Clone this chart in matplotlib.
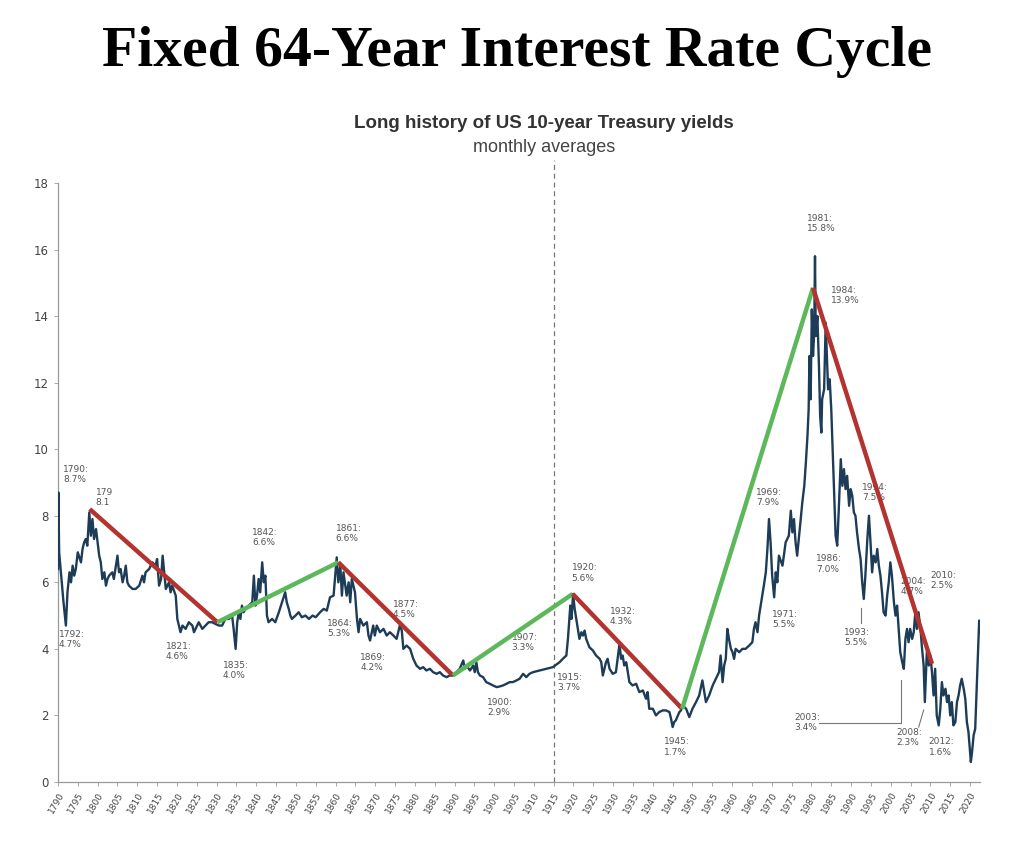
import matplotlib
matplotlib.use("Agg")
import matplotlib.pyplot as plt

# monthly-average 10y yield
years = [
    1790.0, 1790.1, 1790.3, 1790.6, 1791.0, 1791.4, 1792.0, 1792.4, 1792.9, 1793.3, 1793.7, 1794.1,
    1794.5, 1795.0, 1795.8, 1796.2, 1796.6, 1797.0, 1797.4, 1797.9, 1798.3, 1798.7, 1799.1, 1799.6,
    1800.0, 1800.4, 1800.8, 1801.2, 1801.7, 1802.1, 1802.5, 1802.9, 1803.7, 1804.1, 1804.6, 1805.0,
    1805.4, 1805.8, 1806.3, 1806.7, 1807.1, 1807.5, 1807.9, 1808.8, 1809.6, 1810.5, 1811.3, 1811.7,
    1812.1, 1813.0, 1813.8, 1814.6, 1815.0, 1815.5, 1816.0, 1816.4, 1817.2, 1818.0, 1818.4, 1818.8,
    1819.7, 1820.1, 1820.5, 1820.9, 1821.4, 1822.2, 1822.6, 1823.0, 1823.9, 1824.3, 1824.7, 1825.5,
    1826.4, 1827.2, 1828.0, 1828.9, 1829.7, 1830.6, 1831.4, 1832.2, 1833.1, 1833.9, 1834.3, 1834.8,
    1835.2, 1835.6, 1836.0, 1836.4, 1836.8, 1837.3, 1838.1, 1839.0, 1839.4, 1839.8, 1840.2, 1840.6,
    1841.0, 1841.5, 1841.9, 1842.3, 1842.7, 1843.1, 1844.0, 1844.8, 1845.7, 1846.5, 1847.3, 1847.7,
    1848.2, 1848.6, 1849.0, 1849.9, 1850.7, 1851.5, 1852.4, 1853.3, 1854.2, 1855.0, 1856.1, 1857.0,
    1857.8, 1858.6, 1859.5, 1860.3, 1860.7, 1861.2, 1861.6, 1862.0, 1862.8, 1863.3, 1863.7, 1864.1,
    1864.9, 1865.4, 1865.8, 1866.2, 1867.0, 1867.9, 1868.3, 1868.7, 1869.5, 1869.9, 1870.4, 1871.2,
    1872.1, 1872.9, 1873.7, 1874.6, 1875.4, 1876.2, 1876.7, 1877.1, 1877.9, 1878.8, 1879.6, 1880.4,
    1881.3, 1882.1, 1882.9, 1883.8, 1884.6, 1885.5, 1886.3, 1887.1, 1888.0, 1888.8, 1889.7, 1890.5,
    1891.3, 1892.2, 1892.6, 1893.0, 1893.9, 1894.7, 1895.1, 1895.5, 1895.9, 1896.4, 1897.2, 1898.0,
    1898.9, 1899.7, 1900.6, 1901.4, 1902.2, 1903.1, 1903.9, 1904.7, 1905.6, 1906.4, 1907.3, 1908.1,
    1908.9, 1909.8, 1911.5, 1913.1, 1914.8, 1916.5, 1917.3, 1918.2, 1918.6, 1919.2, 1919.5, 1919.9,
    1920.3, 1920.7, 1921.1, 1921.5, 1922.0, 1922.4, 1922.8, 1923.2, 1924.0, 1924.9, 1925.7, 1926.6,
    1927.0, 1927.4, 1928.2, 1928.6, 1929.1, 1929.9, 1930.7, 1931.6, 1932.0, 1932.4, 1932.8, 1933.3,
    1934.1, 1934.9, 1935.8, 1936.6, 1937.5, 1938.3, 1938.7, 1939.1, 1940.0, 1940.8, 1941.6, 1942.5,
    1943.3, 1944.2, 1944.6, 1945.0, 1945.4, 1945.8, 1946.7, 1947.1, 1947.5, 1948.4, 1949.2, 1950.0,
    1950.9, 1951.7, 1952.5, 1953.4, 1954.2, 1955.1, 1955.9, 1956.7, 1957.1, 1957.6, 1958.0, 1958.4,
    1958.8, 1959.2, 1959.7, 1960.1, 1960.5, 1960.9, 1961.8, 1962.6, 1963.4, 1964.3, 1965.1, 1965.5,
    1965.9, 1966.4, 1966.8, 1967.2, 1967.6, 1968.0, 1968.5, 1968.9, 1969.3, 1969.7, 1970.1, 1970.6,
    1971.0, 1971.4, 1971.8, 1972.7, 1973.5, 1974.3, 1974.8, 1975.2, 1975.6, 1976.0, 1976.4, 1976.9,
    1977.3, 1977.7, 1978.2, 1978.6, 1979.0, 1979.3, 1979.5, 1979.8, 1980.1, 1980.4, 1980.7, 1980.9,
    1981.1, 1981.5, 1981.9, 1982.2, 1982.5, 1982.7, 1983.2, 1983.6, 1983.9, 1984.2, 1984.6, 1985.0,
    1985.4, 1985.8, 1986.1, 1986.5, 1986.9, 1987.4, 1987.8, 1988.2, 1988.6, 1989.0, 1989.5, 1989.9,
    1990.3, 1990.7, 1991.1, 1991.5, 1992.0, 1992.4, 1992.8, 1993.2, 1993.6, 1994.1, 1994.5, 1994.9,
    1995.3, 1995.7, 1996.2, 1996.6, 1997.0, 1997.4, 1997.8, 1998.2, 1998.7, 1999.1, 1999.5, 1999.9,
    2000.3, 2000.8, 2001.2, 2001.6, 2002.0, 2002.4, 2002.9, 2003.3, 2003.7, 2004.1, 2004.5, 2004.9,
    2005.4, 2005.8, 2006.2, 2006.6, 2007.0, 2007.5, 2007.9, 2008.3, 2008.6, 2008.9, 2009.1, 2009.6,
    2010.0, 2010.4, 2010.8, 2011.2, 2011.6, 2012.1, 2012.5, 2012.9, 2013.3, 2013.8, 2014.2, 2014.6,
    2015.0, 2015.4, 2015.8, 2016.3, 2016.7, 2017.1, 2017.5, 2017.9, 2018.4, 2018.8, 2019.2, 2019.6,
    2020.2, 2020.5, 2020.9, 2021.3, 2021.7, 2022.0, 2022.3, 2022.5,
]
yields = [
    6.4, 8.7, 6.9, 6.5, 6.0, 5.4, 4.7, 5.7, 6.3, 6.0, 6.5, 6.2,
    6.4, 6.9, 6.6, 7.0, 7.2, 7.3, 7.1, 8.1, 7.4, 7.9, 7.3, 7.6,
    7.2, 6.8, 6.6, 6.1, 6.3, 5.9, 6.1, 6.2, 6.3, 6.1, 6.5, 6.8,
    6.3, 6.4, 6.0, 6.2, 6.5, 6.0, 5.9, 5.8, 5.8, 5.9, 6.2, 6.0,
    6.3, 6.4, 6.6, 6.5, 6.7, 5.9, 6.1, 6.8, 5.8, 6.0, 5.7, 5.9,
    5.6, 4.9, 4.7, 4.5, 4.7, 4.6, 4.7, 4.8, 4.7, 4.5, 4.6, 4.8,
    4.6, 4.7, 4.8, 4.8, 4.75, 4.7, 4.7, 4.9, 4.9, 5.0, 4.6, 4.0,
    4.8, 5.1, 4.9, 5.3, 5.1, 5.2, 5.3, 5.4, 6.2, 5.3, 5.6, 6.1,
    5.7, 6.6, 6.0, 6.2, 5.0, 4.8, 4.9, 4.8, 5.1, 5.4, 5.7, 5.4,
    5.2, 5.0, 4.9, 5.0, 5.1, 4.95, 5.0, 4.9, 5.0, 4.95, 5.1, 5.2,
    5.15, 5.55, 5.6, 6.75, 6.0, 6.5, 5.6, 6.3, 5.6, 6.0, 5.4, 6.1,
    5.7, 4.9, 4.5, 4.9, 4.7, 4.8, 4.4, 4.25, 4.7, 4.4, 4.7, 4.5,
    4.6, 4.4, 4.5, 4.4, 4.3, 4.7, 4.55, 4.0, 4.1, 4.0, 3.7, 3.5,
    3.4, 3.45, 3.35, 3.4, 3.3, 3.25, 3.3, 3.2, 3.15, 3.2, 3.2, 3.3,
    3.4, 3.65, 3.4, 3.5, 3.35, 3.5, 3.3, 3.6, 3.3, 3.2, 3.15, 3.0,
    2.95, 2.9, 2.85, 2.87, 2.9, 2.95, 3.0, 3.0, 3.05, 3.1, 3.25, 3.15,
    3.25, 3.3, 3.35, 3.4, 3.45, 3.6, 3.7, 3.8, 4.3, 5.3, 4.9, 5.65,
    5.2, 4.9, 4.6, 4.3, 4.5, 4.4, 4.55, 4.3, 4.05, 3.95, 3.8, 3.7,
    3.6, 3.2, 3.6, 3.7, 3.4, 3.25, 3.3, 4.15, 3.7, 3.8, 3.5, 3.6,
    3.0, 2.9, 2.95, 2.7, 2.75, 2.5, 2.7, 2.2, 2.2, 2.0, 2.1, 2.15,
    2.15, 2.1, 1.9, 1.65, 1.8, 1.85, 2.1, 2.15, 2.3, 2.2, 1.95, 2.2,
    2.4, 2.6, 3.05, 2.4, 2.6, 2.9, 3.1, 3.3, 3.8, 3.0, 3.5, 3.7,
    4.6, 4.3, 4.0, 3.9, 3.7, 4.0, 3.9, 4.0, 4.0, 4.1, 4.2, 4.6,
    4.8, 4.5, 5.0, 5.3, 5.6, 5.9, 6.3, 7.0, 7.9, 7.2, 6.2, 5.55,
    6.3, 6.0, 6.8, 6.5, 7.2, 7.4, 8.15, 7.5, 7.9, 7.2, 6.8, 7.4,
    7.9, 8.4, 8.9, 9.6, 10.4, 11.2, 12.8, 11.5, 14.2, 12.8, 13.5, 15.8,
    13.4, 14.0, 12.5, 11.0, 10.5, 11.5, 11.8, 13.8, 12.8, 11.8, 12.1, 11.2,
    9.8, 8.4, 7.4, 7.1, 8.2, 9.7, 8.9, 9.4, 8.8, 9.2, 8.3, 8.8,
    8.6, 8.1, 8.0, 7.5, 7.0, 6.7, 6.0, 5.5, 6.2, 7.3, 8.0, 7.2,
    6.3, 6.8, 6.6, 7.0, 6.5, 6.2, 5.7, 5.1, 5.0, 5.6, 6.0, 6.6,
    6.2, 5.4, 5.0, 5.3, 4.6, 3.9, 3.6, 3.4, 4.3, 4.6, 4.2, 4.6,
    4.3, 4.5, 5.1, 4.6, 5.1, 4.6, 4.0, 3.5, 2.4, 3.3, 3.9, 3.5,
    3.8, 3.3, 2.6, 3.4, 2.0, 1.7, 2.2, 3.0, 2.6, 2.8, 2.4, 2.6,
    2.0, 2.4, 1.7, 1.8, 2.4, 2.6, 2.9, 3.1, 2.8, 2.5, 1.8, 1.5,
    0.6, 0.9, 1.4, 1.6, 2.9, 3.8, 4.85, 4.5,
]

# turning points of the drawn 64-year cycle
cycle_years = [1798.0, 1830.2, 1860.7, 1889.6, 1919.8, 1947.4, 1980.4, 2010.4]
cycle_values = [8.2, 4.8, 6.6, 3.2, 5.65, 2.2, 14.85, 3.55]

labels = [
    "1790:\n8.7%", "179\n8.1", "1792:\n4.7%", "1821:\n4.6%", "1835:\n4.0%", "1842:\n6.6%",
    "1861:\n6.6%", "1864:\n5.3%", "1869:\n4.2%", "1877:\n4.5%", "1900:\n2.9%", "1907:\n3.3%",
    "1915:\n3.7%", "1920:\n5.6%", "1932:\n4.3%", "1945:\n1.7%", "1969:\n7.9%", "1971:\n5.5%",
    "1981:\n15.8%", "1984:\n13.9%", "1994:\n7.5%", "1986:\n7.0%", "1993:\n5.5%", "2004:\n4.7%",
    "2010:\n2.5%", "2003:\n3.4%", "2008:\n2.3%", "2012:\n1.6%",
]
label_pos = [
    (1791.3, 9.25), (1799.5, 8.55), (1790.2, 4.27), (1817.2, 3.93), (1831.5, 3.36), (1839.0, 7.36),
    (1860.0, 7.48), (1857.9, 4.60), (1866.2, 3.60), (1874.5, 5.17), (1898.2, 2.25), (1904.4, 4.20),
    (1915.8, 3.00), (1919.5, 6.28), (1929.1, 4.96), (1942.9, 1.05), (1966.1, 8.56), (1970.1, 4.87),
    (1978.9, 16.77), (1984.9, 14.63), (1992.7, 8.71), (1981.1, 6.55), (1988.2, 4.33), (2002.5, 5.86),
    (2010.1, 6.04), (1975.6, 1.80), (2001.5, 1.35), (2009.6, 1.05),
]

fig = plt.figure(figsize=(10.24, 8.46), dpi=100)
ax = fig.add_axes([0.0566, 0.0757, 0.9004, 0.708])

ax.plot(years, yields, color="#1d3c58", lw=1.7, zorder=3)

seg_colors = ["#b3332f", "#5cb85a"]
for i in range(len(cycle_years) - 1):
    ax.plot(cycle_years[i:i + 2], cycle_values[i:i + 2], color=seg_colors[i % 2],
            lw=3.2, solid_capstyle="butt", zorder=5)

# 1915 divider
ax.plot([1915, 1915], [0, 18.7], color="#777777", lw=0.9, ls=(0, (4, 3)), clip_on=False, zorder=1)

for txt, (lx, ly) in zip(labels, label_pos):
    ax.text(lx, ly, txt, fontsize=6.5, color="#555555", ha="left", va="center",
            linespacing=1.15, zorder=4)

# leader lines
gray = "#777777"
ax.plot([1992.5, 1992.5], [5.23, 4.78], color=gray, lw=0.8, zorder=2)
ax.plot([1981.9, 2002.5, 2002.5], [1.77, 1.77, 3.06], color=gray, lw=0.8, zorder=2)
ax.plot([2008.3, 2007.05], [2.16, 1.65], color=gray, lw=0.8, zorder=2)

ax.set_xlim(1790, 2022.5)
ax.set_ylim(0, 18)
ax.set_yticks(range(0, 19, 2))
ax.set_xticks(range(1790, 2021, 5))
ax.tick_params(axis="y", labelsize=8.5, colors="#444444", length=3, width=0.6, color="#999999")
ax.tick_params(axis="x", labelsize=6.5, colors="#444444", length=3, width=0.6, color="#999999")
for lab in ax.get_xticklabels():
    lab.set_rotation(60)
    lab.set_ha("right")
    lab.set_rotation_mode("anchor")
for s in ["top", "right"]:
    ax.spines[s].set_visible(False)
for s in ["left", "bottom"]:
    ax.spines[s].set_color("#999999")
    ax.spines[s].set_linewidth(0.9)

fig.text(0.505, 0.9385, "Fixed 64-Year Interest Rate Cycle", ha="center", va="center",
         fontsize=41.5, fontweight="bold", family="Liberation Serif", color="black")
fig.text(0.531, 0.8546, "Long history of US 10-year Treasury yields", ha="center", va="center",
         fontsize=13.5, fontweight="bold", family="Liberation Sans", color="#333333")
fig.text(0.531, 0.8262, "monthly averages", ha="center", va="center",
         fontsize=13, family="Liberation Sans", color="#444444")

fig.savefig("out.png", dpi=100)
